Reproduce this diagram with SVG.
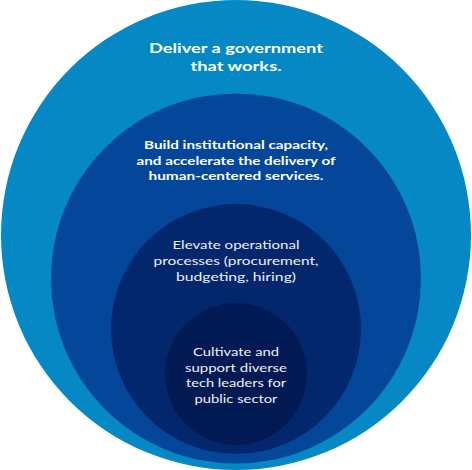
<svg xmlns="http://www.w3.org/2000/svg" width="472" height="470" viewBox="0 0 472 470">
  <style>
    text { font-family: Lato, "Liberation Sans", sans-serif; text-anchor: middle; fill: #ffffff; }
    .t1 { font-size: 13.5px; font-weight: 700; }
    .t2 { font-size: 12.2px; font-weight: 700; }
    .t3 { font-size: 12.2px; font-weight: 400; fill: #eef0f6; }
    .t4 { font-size: 12.2px; font-weight: 400; fill: #eef0f6; }
  </style>
  <rect width="472" height="470" fill="#ffffff"/>
  <g id="ring-outer">
    <circle cx="236" cy="235" r="235" fill="#0688c4"/>
    <text class="t1" x="236" y="53" textLength="174" lengthAdjust="spacingAndGlyphs">Deliver a government</text>
    <text class="t1" x="236" y="71" textLength="91" lengthAdjust="spacingAndGlyphs">that works.</text>
  </g>
  <g id="ring-second">
    <circle cx="236" cy="278.5" r="185" fill="#04479a"/>
    <text class="t2" x="236" y="149" textLength="184" lengthAdjust="spacingAndGlyphs">Build institutional capacity,</text>
    <text class="t2" x="236" y="164.7" textLength="199" lengthAdjust="spacingAndGlyphs">and accelerate the delivery of</text>
    <text class="t2" x="236" y="180" textLength="175" lengthAdjust="spacingAndGlyphs">human-centered services.</text>
  </g>
  <g id="ring-third">
    <circle cx="236" cy="329" r="125" fill="#03276d"/>
    <text class="t3" x="236" y="249" textLength="127" lengthAdjust="spacingAndGlyphs">Elevate operational</text>
    <text class="t3" x="236" y="265" textLength="165" lengthAdjust="spacingAndGlyphs">processes (procurement,</text>
    <text class="t3" x="236" y="280.5" textLength="120" lengthAdjust="spacingAndGlyphs">budgeting, hiring)</text>
  </g>
  <g id="ring-inner">
    <circle cx="236" cy="374" r="71" fill="#021a54"/>
    <text class="t4" x="236" y="356" textLength="86" lengthAdjust="spacingAndGlyphs">Cultivate and</text>
    <text class="t4" x="236" y="371.7" textLength="102" lengthAdjust="spacingAndGlyphs">support diverse</text>
    <text class="t4" x="236" y="387.3" textLength="100" lengthAdjust="spacingAndGlyphs">tech leaders for</text>
    <text class="t4" x="236" y="402.7" textLength="83" lengthAdjust="spacingAndGlyphs">public sector</text>
  </g>
  <g id="connectors"></g>
</svg>
